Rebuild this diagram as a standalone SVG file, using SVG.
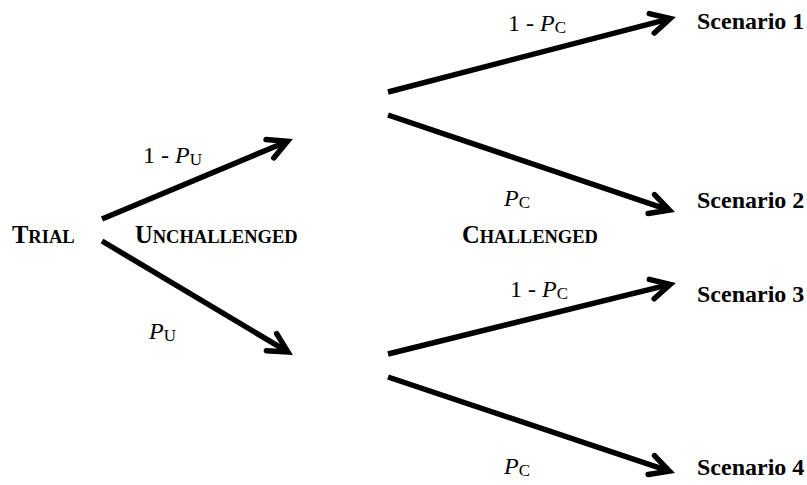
<svg xmlns="http://www.w3.org/2000/svg" width="807" height="485" viewBox="0 0 807 485">
<defs>
<marker id="chev" markerUnits="userSpaceOnUse" orient="auto" refX="0" refY="0" markerWidth="40" markerHeight="40" viewBox="-30 -20 40 40" overflow="visible">
<path d="M-18,-10 L1,0 L-18,10" fill="none" stroke="#000" stroke-width="5.5" stroke-linejoin="miter" stroke-miterlimit="4" stroke-linecap="round"/>
</marker>
<style>
.edge{stroke:#000;stroke-width:5.5;fill:none;marker-end:url(#chev)}
.t{font-family:"Liberation Serif","Times New Roman",serif;fill:#000}
.lab{font-size:24px}
.it{font-style:italic}
.sub{font-size:17px}
.sc{font-weight:bold;font-size:24.5px}
.scs{font-size:18.5px}
.scn{font-weight:bold;font-size:24px}
</style>
</defs>
<rect width="807" height="485" fill="#fff"/>
<g id="connectors">
<line class="edge" x1="102" y1="219" x2="286.5" y2="141.7"/>
<line class="edge" x1="102" y1="241" x2="287.0" y2="351.4"/>
<line class="edge" x1="388" y1="92" x2="669.2" y2="18.8"/>
<line class="edge" x1="388" y1="115" x2="668.4" y2="209.8"/>
<line class="edge" x1="388" y1="354" x2="669.2" y2="284.7"/>
<line class="edge" x1="388" y1="377" x2="668.4" y2="470.8"/>
</g>
<g id="trial"><text class="t sc" x="12" y="243">T<tspan class="scs">RIAL</tspan></text></g>
<g id="unchallenged"><text class="t sc" x="135" y="243">U<tspan class="scs">NCHALLENGED</tspan></text></g>
<g id="challenged"><text class="t sc" x="462" y="243">C<tspan class="scs">HALLENGED</tspan></text></g>
<g id="scenario1"><text class="t scn" x="697" y="29">Scenario 1</text></g>
<g id="scenario2"><text class="t scn" x="697" y="208">Scenario 2</text></g>
<g id="scenario3"><text class="t scn" x="697" y="302">Scenario 3</text></g>
<g id="scenario4"><text class="t scn" x="697" y="475">Scenario 4</text></g>
<g id="labels">
<text class="t lab" x="143" y="163">1 - <tspan class="it">P</tspan><tspan class="sub" dy="2">U</tspan></text>
<text class="t lab" x="149" y="339"><tspan class="it">P</tspan><tspan class="sub" dy="2">U</tspan></text>
<text class="t lab" x="508" y="31">1 - <tspan class="it">P</tspan><tspan class="sub" dy="2">C</tspan></text>
<text class="t lab" x="504" y="206"><tspan class="it">P</tspan><tspan class="sub" dy="2">C</tspan></text>
<text class="t lab" x="510" y="297">1 - <tspan class="it">P</tspan><tspan class="sub" dy="2">C</tspan></text>
<text class="t lab" x="504" y="474"><tspan class="it">P</tspan><tspan class="sub" dy="2">C</tspan></text>
</g>
</svg>
